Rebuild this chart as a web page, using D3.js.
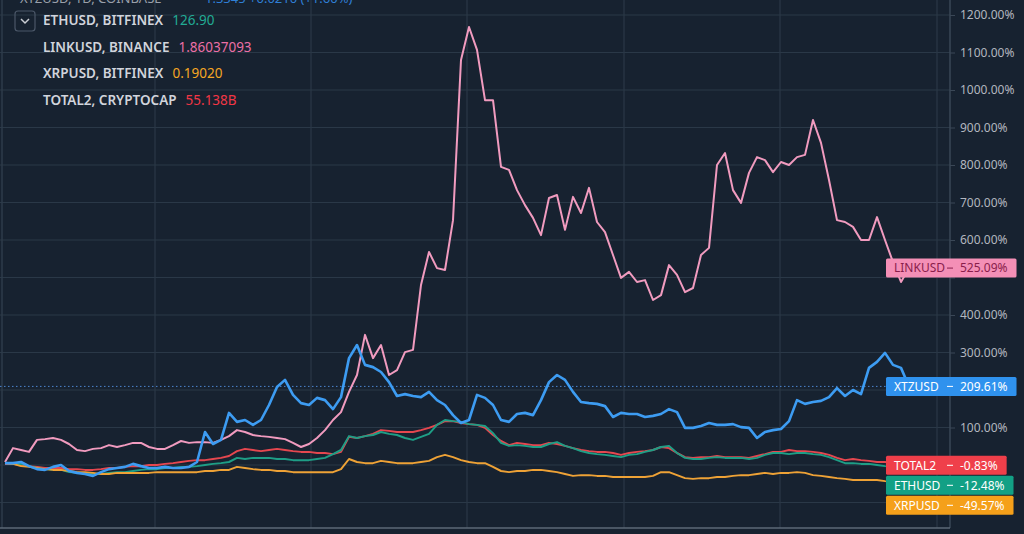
<!DOCTYPE html>
<html><head><meta charset="utf-8">
<script src="https://cdn.jsdelivr.net/npm/d3@7"></script>
<style>html,body{margin:0;padding:0;background:#172230;overflow:hidden}svg{display:block}</style>
</head><body><svg id="c" width="1024" height="534"></svg>
<script>
// ---------- data ----------
const days = d3.range(114);               // sample index (≈3 days apart)
const monthTicks = [18.75, 38.25, 57.75, 77.375, 96.875, 116.5];
const yTicks = [-100,0,100,200,300,400,500,600,700,800,900,1000,1100,1200];

const linkusd = [8,45,40,35,67,69,72,67,56,40,
 37,43,45,53,48,53,59,59,48,43,
 43,53,64,59,61,61,59,67,77,93,
 88,80,77,75,72,69,59,48,56,72,
 93,120,141,195,240,347,285,320,240,253,
 301,307,480,568,525,520,653,1080,1168,1107,
 973,973,795,787,733,693,659,613,712,720,
 627,715,672,739,648,621,560,499,515,488,
 493,440,453,533,507,461,472,560,579,800,
 832,733,699,779,821,813,781,808,800,821,
 827,920,859,760,653,648,635,600,600,661,
 600,541,488,525.09];
const xtzusd = [5,5,8,-3,-11,-13,-5,0,-16,-21,
 -24,-29,-19,-11,-8,-5,3,-3,-8,-8,
 -5,-8,-8,-5,8,88,56,67,139,115,
 120,107,120,160,208,227,187,165,160,179,
 173,149,181,285,320,267,261,248,221,184,
 189,184,181,195,173,160,133,112,120,187,
 179,160,120,115,136,139,133,173,221,240,
 227,195,168,165,163,157,128,139,136,136,
 128,131,136,149,141,99,99,104,112,107,
 107,109,101,99,72,88,93,96,117,173,
 163,168,171,181,205,184,200,189,259,275,
 299,267,259,209.61];
const total2 = [3,3,0,-3,-5,-8,-8,-8,-11,-11,
 -13,-13,-11,-8,-8,-5,-3,-3,0,0,
 3,5,8,11,13,13,16,19,24,37,
 43,40,37,40,43,40,37,35,35,32,
 32,29,35,75,72,77,83,93,91,88,
 88,88,93,99,107,117,117,112,109,107,
 99,80,64,53,59,56,53,53,59,56,
 51,45,40,37,35,35,32,27,32,35,
 37,40,48,45,32,21,19,21,21,24,
 21,21,21,19,24,29,35,35,40,37,
 37,35,32,27,19,13,16,13,11,8,
 8,5,3,-0.83];
const ethusd = [5,3,3,-3,-8,-11,-13,-13,-19,-21,
 -21,-24,-24,-21,-19,-19,-16,-13,-11,-11,
 -8,-8,-5,-5,-3,0,3,5,8,19,
 16,19,19,19,16,16,13,13,13,16,
 19,29,40,77,72,77,80,88,83,80,
 72,67,75,83,107,120,117,115,109,107,
 104,85,59,51,53,51,48,48,56,61,
 51,45,37,32,29,27,24,21,27,29,
 35,40,48,51,32,19,16,16,19,21,
 19,19,19,16,19,27,32,32,29,32,
 32,29,27,21,13,5,5,3,3,0,
 -3,-5,-8,-12.48];
const xrpusd = [5,3,-3,-5,-8,-11,-13,-13,-16,-19,
 -19,-21,-24,-24,-21,-21,-21,-21,-21,-19,
 -19,-19,-19,-19,-19,-16,-16,-13,-13,-5,
 -8,-11,-13,-13,-16,-16,-19,-19,-19,-19,
 -19,-19,-11,16,8,5,5,11,8,5,
 5,5,8,11,21,27,21,13,8,5,
 5,-5,-16,-19,-16,-16,-13,-13,-16,-19,
 -24,-29,-27,-27,-29,-29,-32,-32,-32,-32,
 -32,-29,-19,-19,-27,-35,-37,-35,-35,-32,
 -32,-29,-27,-27,-24,-21,-24,-21,-21,-19,
 -21,-27,-29,-32,-35,-37,-40,-40,-40,-40,
 -43,-45,-45,-49.57];

const legendNames = ["ETHUSD, BITFINEX","LINKUSD, BINANCE","XRPUSD, BITFINEX","TOTAL2, CRYPTOCAP"];
const legendValues = ["126.90","1.86037093","0.19020","55.138B"];
const legendColors = ["#22ab94","#ec6fa6","#f5a623","#f23645"];

const series = [
  {name:"TOTAL2", values: total2, color:"#e5474f", box:"#ef3f4a", text:"#ffffff", w:2},
  {name:"ETHUSD", values: ethusd, color:"#1e9e86", box:"#12a085", text:"#ffffff", w:2},
  {name:"XRPUSD", values: xrpusd, color:"#eea236", box:"#f5a01a", text:"#ffffff", w:2},
  {name:"LINKUSD", values: linkusd, color:"#f19bbf", box:"#f48fb6", text:"#8a1e4c", w:2},
  {name:"XTZUSD", values: xtzusd, color:"#3d9cf2", box:"#2f92ee", text:"#ffffff", w:2.6}
];

// ---------- layout ----------
const svg = d3.select("#c");
const plotR = 950, plotB = 528;
const x = d3.scaleLinear().domain([0, days.length-1]).range([5, 909]);
const y = d3.scaleLinear().domain([0, 1200]).range([465, 15]);

svg.append("rect").attr("width",1024).attr("height",534).attr("fill","#172230");

const grid = svg.append("g");
grid.selectAll("line.h").data(yTicks).join("line")
  .attr("x1",0).attr("x2",plotR).attr("y1",d=>y(d)).attr("y2",d=>y(d))
  .attr("stroke","#2a3847").attr("stroke-width",1.2);
grid.selectAll("line.v").data(monthTicks).join("line")
  .attr("x1",d=>x(d)).attr("x2",d=>x(d)).attr("y1",0).attr("y2",plotB)
  .attr("stroke","#2a3847").attr("stroke-width",1.2);
svg.append("line").attr("x1",2).attr("x2",2).attr("y1",0).attr("y2",plotB).attr("stroke","#2e3b4a").attr("stroke-width",1.5);

// end-label positions (computed first so covered axis labels can be hidden)
const LH = 19;
const labels = series.map(s=>({s, v:s.values[s.values.length-1], cy:y(s.values[s.values.length-1])}))
  .sort((a,b)=>a.cy-b.cy);
for (let i=1;i<labels.length;i++){
  if (labels[i].cy < labels[i-1].cy + LH + 1) labels[i].cy = labels[i-1].cy + LH + 1;
}
const covered = d => labels.some(l => Math.abs(l.cy - y(d)) < LH*0.75);

// price axis
const axis = d3.axisRight(y).tickValues(yTicks).tickSize(5).tickPadding(5)
  .tickFormat(d=>covered(d) ? "" : d.toFixed(2)+"%");
const ag = svg.append("g").attr("transform",`translate(${plotR},0)`).call(axis);
ag.select(".domain").attr("stroke","#3a4756").attr("stroke-width",1.5).attr("d",`M0,0V${plotB}`);
ag.selectAll(".tick line").attr("stroke","#3a4756");
ag.selectAll(".tick text").attr("fill","#b2b6bf").attr("font-size","12px")
  .attr("font-family","'Noto Sans', 'Open Sans', sans-serif");

svg.append("line").attr("x1",0).attr("x2",plotR).attr("y1",plotB).attr("y2",plotB)
  .attr("stroke","#5d6876").attr("stroke-width",1.5);

// dotted price line for XTZ
const xtzLast = xtzusd[xtzusd.length-1];
svg.append("line").attr("x1",0).attr("x2",plotR).attr("y1",y(xtzLast)).attr("y2",y(xtzLast))
  .attr("stroke","#4d86cf").attr("stroke-width",1).attr("stroke-dasharray","1.5,2.5");

// lines
const line = d3.line().x((d,i)=>x(days[i])).y(d=>y(d));
svg.append("g").selectAll("path").data(series).join("path")
  .attr("d",s=>line(s.values)).attr("fill","none")
  .attr("stroke",s=>s.color).attr("stroke-width",s=>s.w)
  .attr("stroke-linejoin","round");

// end labels
const lg = svg.append("g").attr("font-family","'Noto Sans', 'Open Sans', sans-serif").attr("font-size","12px");
labels.forEach(l=>{
  const g = lg.append("g");
  const rect = g.append("rect").attr("x",886).attr("y",l.cy-LH/2).attr("height",LH).attr("rx",1.5).attr("fill",l.s.box);
  g.append("text").attr("x",894).attr("y",l.cy+4.3).attr("fill",l.s.text).text(l.s.name);
  g.append("line").attr("x1",947).attr("x2",953).attr("y1",l.cy).attr("y2",l.cy).attr("stroke",l.s.text).attr("stroke-width",1);
  const t = g.append("text").attr("x",960).attr("y",l.cy+4.3).attr("fill",l.s.text)
    .text(l.v.toFixed(2)+"%");
  const w = t.node().getComputedTextLength();
  rect.attr("width", 960 + w + 9 - 886);
});

// legend
const leg = svg.append("g").attr("font-family","'Noto Sans', 'Open Sans', sans-serif");
leg.append("text").attr("x",20).attr("y",3).attr("fill","#9aa0aa").attr("font-size","13px").text("XTZUSD, 1D, COINBASE");
leg.append("text").attr("x",205).attr("y",3).attr("fill","#2f7fd6").attr("font-size","13px").text("1.3345 +0.0210 (+1.60%)");
leg.append("rect").attr("x",15).attr("y",11).attr("width",20).attr("height",20).attr("rx",3)
  .attr("fill","none").attr("stroke","#4b5768").attr("stroke-width",1.2);
leg.append("path").attr("d","M21,19L25,23L29,19").attr("fill","none").attr("stroke","#c9ccd3").attr("stroke-width",1.5);
const rowY = [20.5, 47, 73.5, 100];
legendNames.forEach((n,i)=>{
  const t = leg.append("text").attr("x",43).attr("y",rowY[i]+4.8).attr("fill","#d1d4dc")
    .attr("font-size","13.5px").attr("font-weight",600).text(n);
  const w = t.node().getComputedTextLength();
  leg.append("text").attr("x",43+w+9).attr("y",rowY[i]+4.8).attr("fill",legendColors[i])
    .attr("font-size","13.5px").text(legendValues[i]);
});
</script></body></html>
